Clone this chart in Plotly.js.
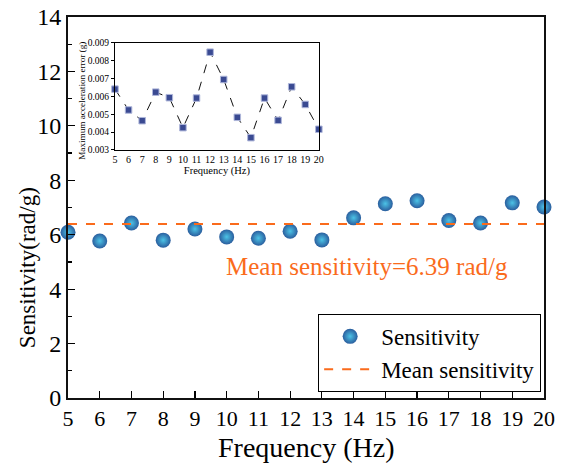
<!DOCTYPE html>
<html>
<head>
<meta charset="utf-8">
<script src="https://cdn.plot.ly/plotly-3.0.1.min.js"></script>
<style>html,body{margin:0;padding:0;background:#fff;}#chart{width:570px;height:466px;}</style>
</head>
<body>
<div id="chart"></div>
<script>
const frequency = [5, 6, 7, 8, 9, 10, 11, 12, 13, 14, 15, 16, 17, 18, 19, 20];
const sensitivity = [6.09, 5.77, 6.43, 5.80, 6.21, 5.92, 5.87, 6.13, 5.81, 6.62, 7.14, 7.25, 6.52, 6.43, 7.17, 7.02];
const meanSensitivity = 6.39;
const meanX = [5, 20];
const maxAccError = [0.00641, 0.00524, 0.00464, 0.00624, 0.00593, 0.00425, 0.00591, 0.00848, 0.00695, 0.00483, 0.00369, 0.00591, 0.00466, 0.00654, 0.00555, 0.00416];
const yTickMain = [0, 2, 4, 6, 8, 10, 12, 14];
const insetYTicks = [0.003, 0.004, 0.005, 0.006, 0.007, 0.008, 0.009];

const serif = "'Liberation Serif', 'DejaVu Serif', serif";
const orange = "#FA6B1C";

const traces = [
  {
    x: frequency, y: sensitivity, type: "scatter", mode: "markers",
    name: "Sensitivity", xaxis: "x", yaxis: "y", cliponaxis: false,
    marker: {size: 15, color: "#2A5E9E", gradient: {type: "radial", color: "#4CC3E6"},
             line: {width: 0}}
  },
  {
    x: meanX, y: meanX.map(() => meanSensitivity), type: "scatter", mode: "lines",
    name: "Mean sensitivity", xaxis: "x", yaxis: "y",
    line: {color: orange, width: 2, dash: "dash"}
  },
  {
    x: frequency, y: maxAccError, type: "scatter", mode: "lines+markers",
    showlegend: false, xaxis: "x2", yaxis: "y2", cliponaxis: false,
    line: {color: "#111", width: 1, dash: "dash"},
    marker: {symbol: "square", size: 6.5, color: "#3A4A92", line: {color: "#AEB6DA", width: 1}}
  }
];

const layout = {
  width: 570, height: 466,
  margin: {l: 68, r: 26, t: 17, b: 68},
  paper_bgcolor: "#fff", plot_bgcolor: "#fff",
  font: {family: serif, color: "#000"},
  showlegend: true,
  legend: {
    x: 0.994, y: 0.016, xanchor: "right", yanchor: "bottom",
    bordercolor: "#000", borderwidth: 1, bgcolor: "#fff",
    font: {family: serif, size: 23, color: "#000"},
    itemwidth: 52, tracegroupgap: 0
  },
  xaxis: {
    domain: [0, 1], range: [5, 20], dtick: 1, tick0: 5,
    showgrid: false, zeroline: false,
    showline: true, linecolor: "#111", linewidth: 2, mirror: true,
    ticks: "inside", ticklen: 7, tickwidth: 1.2, tickcolor: "#000",
    tickfont: {family: serif, size: 22, color: "#000"},
    title: {text: ""}
  },
  yaxis: {
    domain: [0, 1], range: [0, 14], tickvals: yTickMain,
    showgrid: false, zeroline: false,
    showline: true, linecolor: "#111", linewidth: 2, mirror: true,
    ticks: "inside", ticklen: 7, tickwidth: 1.2, tickcolor: "#000",
    minor: {dtick: 1, ticks: "inside", ticklen: 4, tickcolor: "#000", showgrid: false},
    tickfont: {family: serif, size: 24, color: "#000"},
    title: {text: ""}
  },
  xaxis2: {
    domain: [0.0987, 0.527], anchor: "y2", range: [5, 20], dtick: 1, tick0: 5,
    showgrid: false, zeroline: false,
    showline: true, linecolor: "#000", linewidth: 1, mirror: true,
    ticks: "", ticklen: 0,
    tickfont: {family: serif, size: 10, color: "#000"},
    title: {text: "Frequency (Hz)", font: {family: serif, size: 10.5, color: "#000"}, standoff: 1}
  },
  yaxis2: {
    domain: [0.651, 0.932], anchor: "x2", range: [0.003, 0.009], tickvals: insetYTicks,
    tickformat: ".3f",
    showgrid: false, zeroline: false,
    showline: true, linecolor: "#000", linewidth: 1, mirror: true,
    ticks: "outside", ticklen: 3, tickcolor: "#000",
    tickfont: {family: serif, size: 9.5, color: "#000"},
    title: {text: ""}
  },
  annotations: [
    {
      x: 14.42, y: 4.82, xref: "x", yref: "y", showarrow: false,
      text: "Mean sensitivity=6.39 rad/g",
      font: {family: serif, size: 25, color: orange}
    },
    {
      x: 0.499, y: -0.131, xref: "paper", yref: "paper", showarrow: false,
      xanchor: "center", yanchor: "middle",
      text: "Frequency (Hz)",
      font: {family: serif, size: 28, color: "#000"}
    },
    {
      x: -0.086, y: 0.341, xref: "paper", yref: "paper", showarrow: false,
      xanchor: "center", yanchor: "middle",
      textangle: -90, text: "Sensitivity(rad/g)",
      font: {family: serif, size: 23, color: "#000"}
    },
    {
      x: 0.0294, y: 0.78, xref: "paper", yref: "paper", showarrow: false,
      xanchor: "center", yanchor: "middle",
      textangle: -90, text: "Maximum acceleration error (g)",
      font: {family: serif, size: 9.2, color: "#000"}
    }
  ]
};

Plotly.newPlot("chart", traces, layout, {displayModeBar: false, staticPlot: true});
</script>
</body>
</html>
